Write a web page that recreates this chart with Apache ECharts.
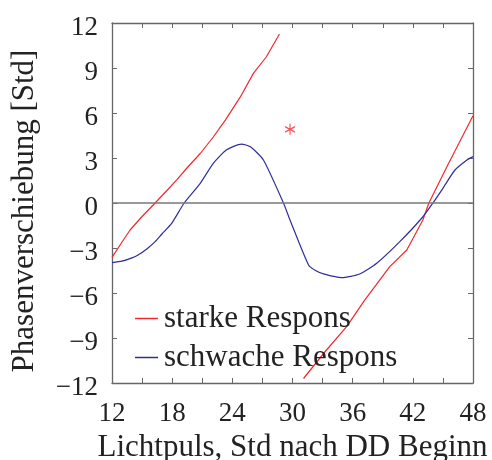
<!DOCTYPE html>
<html>
<head>
<meta charset="utf-8">
<script src="https://cdn.jsdelivr.net/npm/echarts@6/dist/echarts.min.js"></script>
<style>
html,body{margin:0;padding:0;background:#fff;}
#chart{width:492px;height:460px;}
</style>
</head>
<body>
<div id="chart"></div>
<script>
// Data
var xTicks = [12, 18, 24, 30, 36, 42, 48];
var yTicks = [-12, -9, -6, -3, 0, 3, 6, 9, 12];

var strongX1 = [12, 13, 13.8, 15, 16.3, 17.5, 18.5, 19.5, 20.8, 22.1, 23.3, 24.8, 26.1, 27.4, 28.7];
var strongY1 = [-3.62, -2.6, -1.8, -0.9, 0, 0.85, 1.57, 2.35, 3.3, 4.4, 5.53, 7.07, 8.64, 9.75, 11.27];

var strongX2 = [31.1, 33.2, 35.4, 37.2, 39.7, 41.4, 43.0, 43.6, 45.5, 48];
var strongY2 = [-11.7, -9.95, -8.24, -6.47, -4.24, -3.13, -1.13, 0, 2.55, 5.82];

var weakX = [12, 13, 14, 14.6, 15.5, 16.3, 17, 17.95, 19.2, 20.8, 22.1, 23.4, 24.9, 25.8, 27.1, 29.1, 29.75, 31.6, 32.3, 33.1, 34.9, 36.7, 38.4, 40.7, 42.9, 44.0, 45.0, 46.2, 47.4, 48];
var weakY = [-3.98, -3.88, -3.66, -3.47, -3.05, -2.58, -2.05, -1.36, 0, 1.31, 2.64, 3.53, 3.93, 3.75, 2.87, 0, -1.13, -4.13, -4.5, -4.73, -4.98, -4.73, -4.02, -2.58, -1.0, 0, 0.98, 2.2, 2.87, 3.09];

var starX = [29.75];
var starY = [4.91];

var seriesNames = ['starke Respons', 'schwache Respons'];
var xTitle = 'Lichtpuls, Std nach DD Beginn';
var yTitle = 'Phasenverschiebung [Std]';

function pairs(xs, ys) { return xs.map(function (x, i) { return [x, ys[i]]; }); }

var RED = '#f0282d';
var BLUE = '#2e2e9a';
var AX = '#666666';
var FONT = 'Liberation Serif';

var chart = echarts.init(document.getElementById('chart'), null, {renderer: 'canvas'});

var baseTick = {show: true, inside: true, length: 5, lineStyle: {color: AX, width: 1}};

chart.setOption({
  animation: false,
  backgroundColor: '#ffffff',
  grid: {left: 112, right: 19, top: 23, bottom: 77, containLabel: false, outerBoundsMode: 'none'},
  legend: {
    data: seriesNames,
    orient: 'vertical',
    left: 130,
    top: 298,
    itemWidth: 23,
    itemHeight: 1.5,
    itemGap: 8,
    icon: 'rect',
    textStyle: {fontFamily: FONT, fontSize: 31, color: '#222', lineHeight: 31, padding: [0, 0, 0, 1]}
  },
  xAxis: [{
    type: 'value', min: 12, max: 48, interval: 3, position: 'bottom',
    name: xTitle, nameLocation: 'middle', nameGap: 47,
    nameTextStyle: {fontFamily: FONT, fontSize: 31, color: '#222'},
    axisLine: {show: true, onZero: false, lineStyle: {color: AX, width: 1.3}},
    axisTick: baseTick,
    splitLine: {show: false},
    axisLabel: {
      fontFamily: FONT, fontSize: 27, color: '#222', margin: 17,
      formatter: function (v) { return xTicks.indexOf(v) >= 0 ? String(v) : ''; }
    }
  }, {
    type: 'value', min: 12, max: 48, interval: 3, position: 'top',
    axisLine: {show: true, onZero: false, lineStyle: {color: AX, width: 1.3}},
    axisTick: baseTick, axisLabel: {show: false}, splitLine: {show: false}
  }],
  yAxis: [{
    type: 'value', min: -12, max: 12, interval: 3, position: 'left',
    name: yTitle, nameLocation: 'middle', nameGap: 72, nameRotate: 90,
    nameTextStyle: {fontFamily: FONT, fontSize: 31, color: '#222', padding: [0, 16, 0, 0]},
    axisLine: {show: true, onZero: false, lineStyle: {color: AX, width: 1.3}},
    axisTick: baseTick,
    splitLine: {show: false},
    axisLabel: {
      fontFamily: FONT, fontSize: 27, color: '#222', margin: 14,
      verticalAlign: 'top', lineHeight: 9,
      formatter: function (v) { return yTicks.indexOf(v) >= 0 ? (v < 0 ? '\u2212' + Math.abs(v) : String(v)) : ''; }
    }
  }, {
    type: 'value', min: -12, max: 12, interval: 3, position: 'right',
    axisLine: {show: true, onZero: false, lineStyle: {color: AX, width: 1.3}},
    axisTick: baseTick, axisLabel: {show: false}, splitLine: {show: false}
  }],
  series: [{
    name: seriesNames[0], type: 'line', data: pairs(strongX1, strongY1),
    xAxisIndex: 0, yAxisIndex: 0,
    showSymbol: false, symbol: 'none', smooth: false,
    lineStyle: {color: RED, width: 1.2}, itemStyle: {color: RED}
  }, {
    name: seriesNames[0] + ' (2)', type: 'line', data: pairs(strongX2, strongY2),
    xAxisIndex: 0, yAxisIndex: 0,
    showSymbol: false, symbol: 'none', smooth: false,
    lineStyle: {color: RED, width: 1.2}, itemStyle: {color: RED}
  }, {
    name: seriesNames[1], type: 'line', data: pairs(weakX, weakY),
    xAxisIndex: 0, yAxisIndex: 0,
    showSymbol: false, symbol: 'none', smooth: 0.2,
    lineStyle: {color: BLUE, width: 1.2}, itemStyle: {color: BLUE},
    markLine: {
      silent: true, symbol: ['none', 'none'], label: {show: false},
      lineStyle: {color: '#777', width: 1.6, type: 'solid'},
      data: [{yAxis: 0}]
    }
  }, {
    name: 'stern', type: 'scatter', data: pairs(starX, starY),
    xAxisIndex: 0, yAxisIndex: 0,
    symbol: 'path://M0,-5L0,5M-4.33,-2.5L4.33,2.5M-4.33,2.5L4.33,-2.5',
    symbolSize: [10, 11],
    itemStyle: {color: 'rgba(0,0,0,0)', borderColor: RED, borderWidth: 1.2}
  }]
});
</script>
</body>
</html>
